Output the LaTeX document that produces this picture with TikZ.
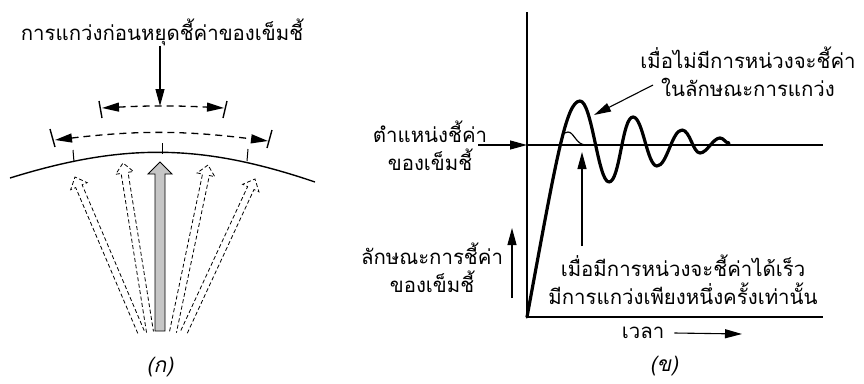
\documentclass[tikz,border=0pt]{standalone}
\usepackage{fontspec}
\newfontfamily\thai[Script=Thai]{Loma}
\newfontfamily\thaisl[Script=Thai,FakeSlant=0.2]{Loma}
\usetikzlibrary{arrows.meta, calc}

\tikzset{
  lbl/.style={font=\thai\fontsize{20.4}{28}\selectfont, align=center, inner sep=0pt},
  subcap/.style={font=\thaisl\fontsize{21}{28}\selectfont, inner sep=0pt},
  arr/.style={line width=1.1pt, -{Triangle[length=17pt,width=9pt]}},
  dim/.style={line width=1.3pt, dash pattern=on 7pt off 5pt,
    {Triangle[length=17pt,width=9pt]}-{Triangle[length=17pt,width=9pt]}},
  bar/.style={line width=1.4pt},
  ghost/.style={line width=0.8pt, dash pattern=on 4pt off 2.5pt},
  real/.style={line width=0.9pt, fill=gray!45},
  resp/.style={line width=3.2pt, line join=round, line cap=round},
}

\begin{document}
\begin{tikzpicture}[x=1pt, y=-1pt]
    \useasboundingbox (0,0) rectangle (864,383);

    % (a) the scale and the swinging pointer
    \node[lbl] (swing) at (162,32) {การแกว่งก่อนหยุดชี้ค่าของเข็มชี้};
    \coordinate (swingmid) at (160,106);
    \draw[arr] (swing.south -| swingmid) -- (swingmid);

    \draw[bar] (99,101) -- (102,118);
    \draw[bar] (227,101) -- (223,118);
    \draw[dim] (102,108) to[bend left=3] (224,108);

    \draw[bar] (50,129) -- (55,147);
    \draw[bar] (272,130) -- (267,148);
    \draw[dim] (55,140) to[bend left=7] (268,141);

    \draw[line width=1.4pt] (10,178) to[bend left=18] (315,182);
    \draw[line width=1pt] (73,150) -- (74,162);
    \draw[line width=1pt] (162,143) -- (162,154);
    \draw[line width=1pt] (248,149) -- (247,161);

    \foreach \bx/\by/\tx/\ty in {141/332/75/177, 150/332/123/163, 173/332/208/165, 184/332/255/179} {
        \path (\bx,\by) coordinate (nb) (\tx,\ty) coordinate (nt)
            ($(nt)!10pt!(nb)$) coordinate (nh);
        \draw[ghost] ($(nb)!3.5pt!90:(nt)$) -- ($(nh)!3.5pt!-90:(nb)$)
            -- ($(nh)!9pt!-90:(nb)$) -- (nt) -- ($(nh)!9pt!90:(nb)$)
            -- ($(nh)!3.5pt!90:(nb)$) -- ($(nb)!3.5pt!-90:(nt)$);
    }
    \coordinate (nb) at (160,331);
    \coordinate (nt) at (160,162);
    \coordinate (nh) at ($(nt)!12pt!(nb)$);
    \draw[real] ($(nb)!5pt!90:(nt)$) -- ($(nh)!5pt!-90:(nb)$)
        -- ($(nh)!12pt!-90:(nb)$) -- (nt) -- ($(nh)!12pt!90:(nb)$)
        -- ($(nh)!5pt!90:(nb)$) -- ($(nb)!5pt!-90:(nt)$) -- cycle;

    \node[subcap] (capa) at (160,367) {(ก)};

    % (b) response of the pointer
    \coordinate (O) at (527,317);
    \coordinate (ytop) at (527,12);
    \coordinate (xend) at (823,317);
    \coordinate (set) at (527,145);
    \coordinate (setend) at (823,145);
    \draw[line width=1.3pt] (ytop) -- (O);
    \draw[line width=1.8pt] (O) -- (xend);
    \draw[line width=1.1pt] (set) -- (setend);

    \draw[resp] (O) .. controls (556,160) and (566,101) .. (580,101)
        .. controls (592,101) and (598,182) .. (609,182)
        .. controls (620,182) and (622,117) .. (633,117)
        .. controls (643,117) and (647,166) .. (657,166)
        .. controls (667,166) and (672,130) .. (682,130)
        .. controls (690,130) and (693,153) .. (700,153)
        .. controls (707,153) and (713,138) .. (720,138)
        .. controls (724,138) and (725,143) .. (729,143);
    \draw[line width=1.2pt] (557,160) .. controls (561,136) and (563,132) .. (568,132)
        .. controls (574,132) and (576,145) .. (586,145);

    \node[lbl] (setlbl) at (430,146) {ตำแหน่งชี้ค่า\\ของเข็มชี้};
    \coordinate (setin) at (478,145);
    \draw[arr] (setin) -- (set);

    \node[lbl] (resplbl) at (432,268) {ลักษณะการชี้ค่า\\ของเข็มชี้};
    \coordinate (ylo) at (512,298);
    \coordinate (yhi) at (512,228);
    \draw[arr] (ylo) -- (yhi);

    \node[lbl] (pklbl) at (748,72) {เมื่อไม่มีการหน่วงจะชี้ค่า\\ในลักษณะการแกว่ง};
    \coordinate (pkfrom) at (653,85);
    \coordinate (pk) at (594,115);
    \draw[arr] (pkfrom) -- (pk);

    \node[lbl] (dplbl) at (683,280) {เมื่อมีการหน่วงจะชี้ค่าได้เร็ว\\มีการแกว่งเพียงหนึ่งครั้งเท่านั้น};
    \coordinate (dp) at (582,152);
    \coordinate (dpfrom) at (582,246);
    \draw[arr] (dpfrom) -- (dp);

    \node[lbl] (time) at (643,333) {เวลา};
    \coordinate (tend) at (742,334);
    \draw[arr] ([xshift=10pt]time.east) -- (tend);

    \node[subcap] (capb) at (664,366) {(ข)};
\end{tikzpicture}
\end{document}
